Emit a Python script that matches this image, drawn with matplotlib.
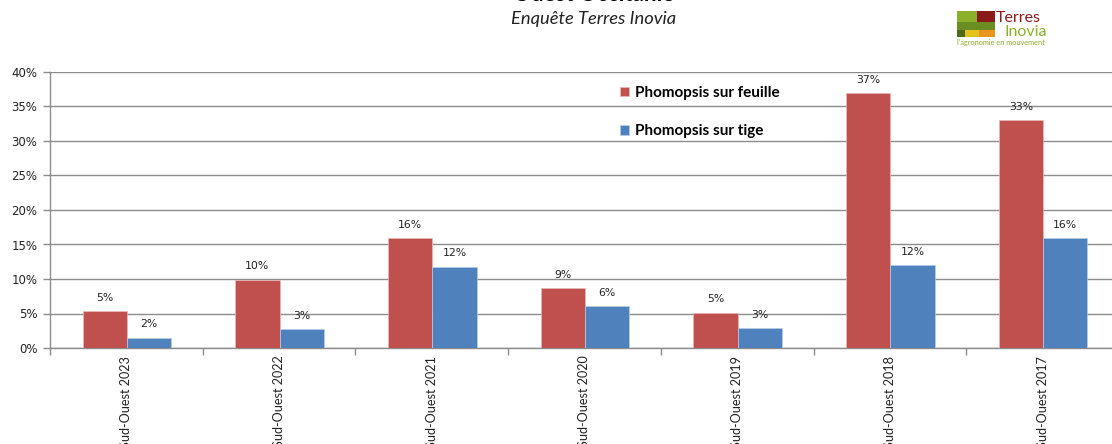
import matplotlib
matplotlib.use("Agg")
import matplotlib.pyplot as plt
import numpy as np
from matplotlib.patches import Rectangle

categories = ["Sud-Ouest 2023", "Sud-Ouest 2022", "Sud-Ouest 2021", "Sud-Ouest 2020",
              "Sud-Ouest 2019", "Sud-Ouest 2018", "Sud-Ouest 2017"]
feuille = [5.3, 9.9, 15.9, 8.7, 5.1, 36.9, 33.0]
tige = [1.5, 2.7, 11.8, 6.1, 2.9, 12.0, 15.9]
feuille_labels = ["5%", "10%", "16%", "9%", "5%", "37%", "33%"]
tige_labels = ["2%", "3%", "12%", "6%", "3%", "12%", "16%"]
yticks = [0, 5, 10, 15, 20, 25, 30, 35, 40]
ytick_labels = ["0%", "5%", "10%", "15%", "20%", "25%", "30%", "35%", "40%"]
series_names = ["Phomopsis sur feuille", "Phomopsis sur tige"]
title = "Ouest Occitanie"
subtitle = "Enquête Terres Inovia"

RED = "#C0504D"
BLUE = "#4F81BD"
GRID = "#8C8C8C"

W, H = 1112, 444
fig = plt.figure(figsize=(W / 100, H / 100), dpi=100)
fig.patch.set_facecolor("white")

def fx(px):
    return px / W

def fy(py):
    return 1 - py / H

ax = fig.add_axes([fx(50), fy(348), fx(1119) - fx(50), fy(72) - fy(348)])
x = np.arange(len(categories))
bw = 0.29
b1 = ax.bar(x - bw / 2 + 0.003, feuille, bw, color=RED, edgecolor="#E8B9B8", linewidth=0.5,
            label=series_names[0], zorder=3)
b2 = ax.bar(x + bw / 2 + 0.003, tige, bw, color=BLUE, edgecolor="#B9CDE5", linewidth=0.5,
            label=series_names[1], zorder=3)

for rect, lab in zip(b1, feuille_labels):
    ax.annotate(lab, (rect.get_x() + rect.get_width() / 2, rect.get_height()),
                xytext=(0, 6), textcoords="offset points", ha="center", va="bottom",
                fontsize=7.8, family="DejaVu Sans", color="#222222")
for rect, lab in zip(b2, tige_labels):
    ax.annotate(lab, (rect.get_x() + rect.get_width() / 2, rect.get_height()),
                xytext=(0, 6), textcoords="offset points", ha="center", va="bottom",
                fontsize=7.8, family="DejaVu Sans", color="#222222")

ax.set_xlim(-0.5, len(categories) - 0.5)
ax.set_ylim(0, 40)
ax.set_yticks(yticks)
ax.set_yticklabels(ytick_labels, fontsize=8.5, family="DejaVu Sans", color="#222222")
ax.yaxis.grid(True, color=GRID, linewidth=1.0, zorder=0)
ax.set_axisbelow(True)

ax.set_xticks(np.arange(len(categories) + 1) - 0.5)
ax.set_xticklabels([])
for xi, cat in zip(x, categories):
    ax.text(xi, -0.028, cat, transform=ax.get_xaxis_transform(), rotation=90,
            ha="center", va="top", fontsize=9.1, family="Lato", color="#222222")

for s in ["top", "right"]:
    ax.spines[s].set_visible(False)
for s in ["left", "bottom"]:
    ax.spines[s].set_color(GRID)
    ax.spines[s].set_linewidth(1.0)
ax.tick_params(axis="both", direction="out", length=5, color=GRID, width=1)
ax.tick_params(axis="y", pad=4)

leg = ax.legend(handles=[b1, b2], loc="upper left", frameon=False, handlelength=0.6,
                handleheight=0.6, handletextpad=0.4, labelspacing=1.6,
                prop={"family": "Lato", "weight": "bold", "size": 11})
leg.set_bbox_to_anchor((fx(606), fy(72)), transform=fig.transFigure)

fig.text(0.534, fy(1), title, ha="center", va="baseline", fontsize=16, weight="bold",
         family="Lato", color="#000000")
fig.text(0.534, fy(19), subtitle, ha="center", va="center", fontsize=13.2, style="italic",
         family="Lato", color="#222222")

# logo
lax = fig.add_axes([fx(955), fy(48), fx(1050) - fx(955), fy(8) - fy(48)])
lax.set_xlim(955, 1050)
lax.set_ylim(48, 8)
lax.axis("off")
blocks = [
    (957, 11, 20, 11, "#8DB02C"),
    (977, 11, 18, 11, "#8B1A1A"),
    (957, 22, 38, 8, "#6B8E23"),
    (957, 30, 8, 7, "#4F6B1A"),
    (965, 30, 14, 7, "#E2C21B"),
    (979, 30, 16, 7, "#E8961E"),
]
for bx, by, bwid, bh, c in blocks:
    lax.add_patch(Rectangle((bx, by), bwid, bh, color=c, lw=0))
lax.text(996, 18, "Terres", color="#8B1A1A", fontsize=11.5, family="Lato", va="center", ha="left")
lax.text(1004, 32, "Inovia", color="#8DB02C", fontsize=11.5, family="Lato", va="center", ha="left")
lax.text(957, 42, "l'agronomie en mouvement", color="#8DB02C", fontsize=5.3, family="Lato",
         va="center", ha="left")

fig.savefig("out.png", dpi=100, facecolor="white")
